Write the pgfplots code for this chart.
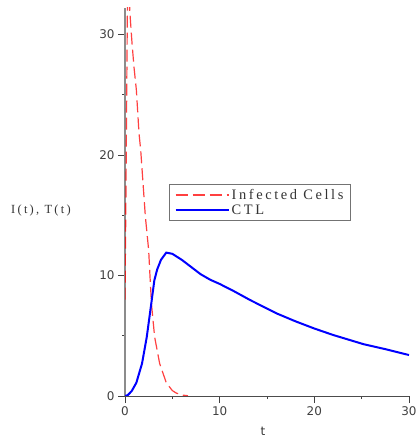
\documentclass[border=0pt]{standalone}
\usepackage{fontspec}
\setmainfont{Liberation Serif}
\newfontfamily\tickfont{DejaVu Sans}
\newfontfamily\legfont[LetterSpace=18]{Liberation Serif}
\usepackage{pgfplots}
\pgfplotsset{compat=1.18}
\begin{document}
\begin{tikzpicture}
\path[use as bounding box] (0,0) rectangle (417bp,439bp);
\begin{axis}[
  at={(125bp,43bp)}, anchor=south west,
  scale only axis, width=284bp, height=388bp,
  xmin=0, xmax=30, ymin=0, ymax=32.2,
  axis lines=left, axis line style={-},
  x axis line style={draw=black!70, line width=0.8bp},
  y axis line style={draw=black!45, line width=1.8bp},
  xtick={0,10,20,30}, minor xtick={5,15,25},
  ytick={0,10,20,30}, minor ytick={5,15,25},
  tick align=outside,
  major tick length=7bp, minor tick length=3bp,
  every tick/.style={black!75, line width=0.8bp},
  /pgf/number format/assume math mode=true,
  tick label style={font=\tickfont\fontsize{12}{14}\selectfont, text=black!75},
  xlabel={t},
  xlabel style={font=\tickfont\fontsize{12}{14}\selectfont, text=black!80, at={(axis description cs:0.486,-0.09)}, anchor=center},
  ylabel={I(t), T(t)},
  ylabel style={font=\legfont\fontsize{12.5}{14}\selectfont, text=black!80, rotate=-90, at={(axis description cs:-0.296,0.479)}, anchor=center},
  legend style={at={(axis description cs:0.155,0.546)}, anchor=north west,
    draw=black!55, line width=1.2bp, font=\legfont\fontsize{14.5}{15}\selectfont,
    inner xsep=5bp, inner ysep=2.5bp, row sep=0bp, legend cell align=left, text=black!80},
  legend image code/.code={\draw[#1] (0bp,0bp) -- (53bp,0bp);},
]
\addplot[red, opacity=0.75, line width=1.2bp, dash pattern=on 12bp off 5bp] coordinates {
(0,8) (0.08,15) (0.16,23) (0.24,31) (0.32,36) (0.42,35) (0.5,32)
(0.74,29.3) (0.95,27.3) (1.2,25.4) (1.48,21.8) (1.66,20.4) (1.9,17.7)
(2.15,14.9) (2.5,12.1) (2.65,9.8) (2.8,7.6) (3.13,4.9) (3.66,2.7)
(4.36,1.1) (5.0,0.45) (5.4,0.25) (6.0,0.08) (6.65,0.02)
};
\addlegendentry{Infected Cells}
\addplot[blue, line width=2bp] coordinates {
(0,0) (0.3,0.08) (0.7,0.4) (1.2,1.1) (1.8,2.7) (2.3,4.9) (2.78,7.7)
(3.1,9.6) (3.4,10.5) (3.8,11.3) (4.36,11.9) (5,11.8) (6,11.3) (7,10.7)
(8,10.1) (9,9.65) (10,9.3) (11.5,8.7) (13.2,7.97) (16,6.86) (18,6.2)
(20,5.6) (22,5.06) (25.2,4.3) (27.6,3.87) (30,3.4)
};
\addlegendentry{CTL}
\end{axis}
\end{tikzpicture}
\end{document}
